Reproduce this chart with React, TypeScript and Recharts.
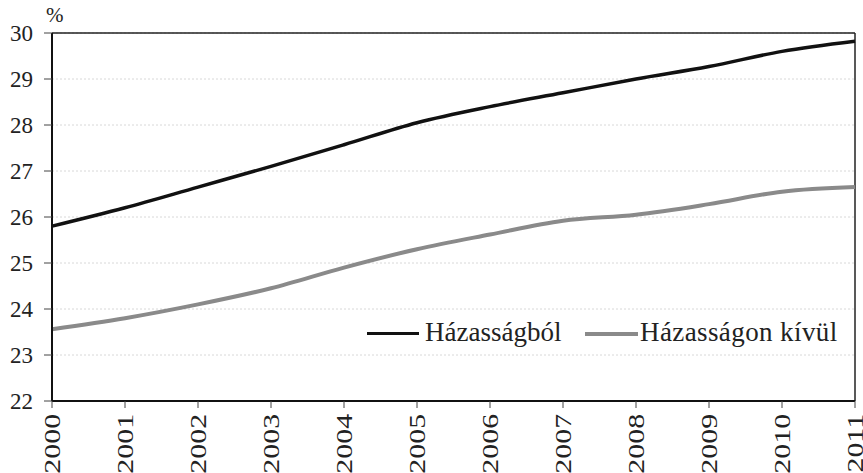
import React from 'react'
import { LineChart, Line, XAxis, YAxis, CartesianGrid, ReferenceLine } from 'recharts'

const years = [2000, 2001, 2002, 2003, 2004, 2005, 2006, 2007, 2008, 2009, 2010, 2011]
const hazassagbol = [25.8, 26.2, 26.65, 27.1, 27.57, 28.05, 28.4, 28.7, 29.0, 29.27, 29.6, 29.82]
const hazassagonKivul = [23.56, 23.8, 24.1, 24.45, 24.9, 25.3, 25.62, 25.92, 26.05, 26.28, 26.55, 26.65]
const yTicks = [22, 23, 24, 25, 26, 27, 28, 29, 30]

const data = years.map((year, i) => ({
  year,
  hazassagbol: hazassagbol[i],
  kivul: hazassagonKivul[i]
}))

const FONT = 'Liberation Serif'

const XTick = ({ x, y, payload }: any) => (
  <g transform={`translate(${x},${y})`}>
    <text
      transform="rotate(-90) scale(1.3,1)"
      x={-3}
      y={0}
      dy="0.35em"
      textAnchor="end"
      fill="#222"
      fontSize={23}
      fontFamily={FONT}
      style={{ fontFamily: FONT }}
    >
      {payload.value}
    </text>
  </g>
)

const YTick = ({ x, y, payload }: any) => (
  <text
    x={x}
    y={y}
    dy="0.35em"
    textAnchor="end"
    fill="#222"
    fontSize={23}
    fontFamily={FONT}
    style={{ fontFamily: FONT }}
  >
    {payload.value}
  </text>
)

const legendText = { position: 'absolute' as const, top: 317, fontSize: 27, lineHeight: '30px', color: '#222', whiteSpace: 'nowrap' as const }

const App = () => {
  return (
    <div style={{ position: 'absolute', left: 0, top: 0, width: 863, height: 473, background: '#fff', fontFamily: FONT, overflow: 'hidden' }}>
      <div style={{ position: 'absolute', left: 46, top: 3, fontSize: 21, color: '#222' }}>%</div>
      <LineChart
        width={863}
        height={473}
        data={data}
        margin={{ top: 33, right: 8, bottom: 0, left: 0 }}
        style={{ fontFamily: FONT }}
      >
        <CartesianGrid horizontal vertical={false} stroke="#d8d8d8" strokeDasharray="2 2" />
        <XAxis
          dataKey="year"
          type="number"
          domain={[2000, 2011]}
          ticks={years}
          interval={0}
          tick={<XTick />}
          tickSize={7}
          axisLine={{ stroke: '#111', strokeWidth: 2 }}
          tickLine={{ stroke: '#444' }}
          height={72}
        />
        <YAxis
          domain={[22, 30]}
          ticks={yTicks}
          interval={0}
          width={52}
          tickSize={8}
          tickMargin={11}
          tick={<YTick />}
          axisLine={{ stroke: '#111', strokeWidth: 2 }}
          tickLine={{ stroke: '#444' }}
        />
        <ReferenceLine y={30} stroke="#222" strokeWidth={1.5} />
        <ReferenceLine x={2011} stroke="#222" strokeWidth={1.5} />
        <Line
          type="monotone"
          dataKey="hazassagbol"
          name="Házasságból"
          stroke="#111"
          strokeWidth={3.5}
          dot={false}
          isAnimationActive={false}
        />
        <Line
          type="monotone"
          dataKey="kivul"
          name="Házasságon kívül"
          stroke="#8a8a8a"
          strokeWidth={4}
          dot={false}
          isAnimationActive={false}
        />
      </LineChart>
      <div style={{ position: 'absolute', left: 367, top: 332, width: 52, height: 3, background: '#111' }} />
      <div style={{ ...legendText, left: 425 }}>Házasságból</div>
      <div style={{ position: 'absolute', left: 585, top: 332, width: 53, height: 4, background: '#8a8a8a' }} />
      <div style={{ ...legendText, left: 640, letterSpacing: 0.4 }}>Házasságon kívül</div>
    </div>
  )
}

export default App
